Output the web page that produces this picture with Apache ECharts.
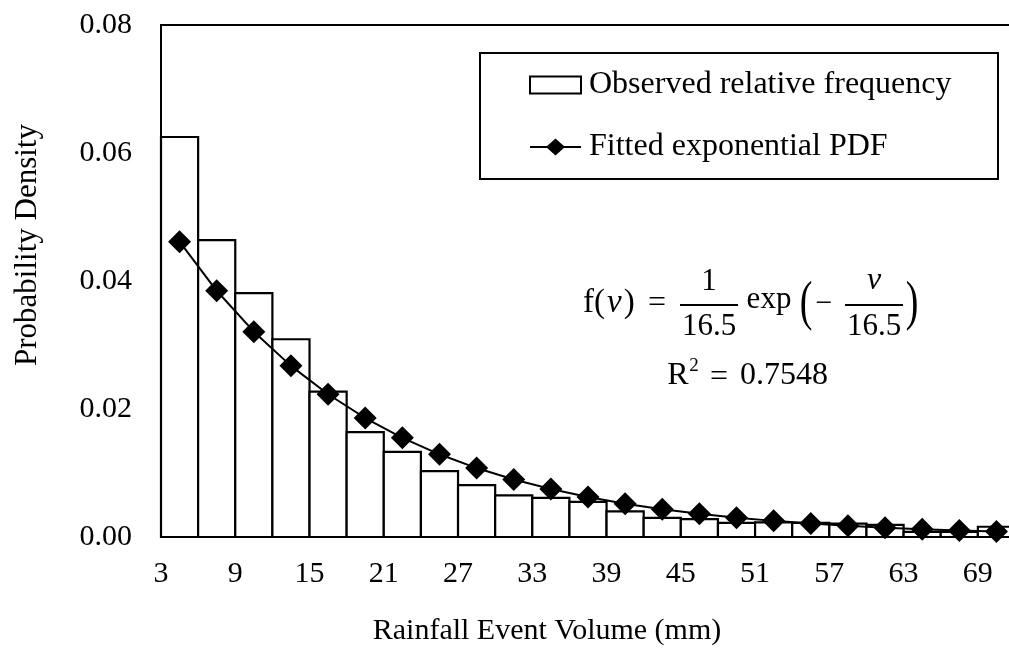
<!DOCTYPE html>
<html>
<head>
<meta charset="utf-8">
<script src="https://cdn.jsdelivr.net/npm/echarts@6/dist/echarts.min.js"></script>
<style>
  html, body { margin: 0; padding: 0; background: #fff; }
  #chart { width: 1009px; height: 651px; }
</style>
</head>
<body>
<div id="chart"></div>
<script>
// Histogram bins of rainfall event volume (mm)
const binLow  = [3, 6, 9, 12, 15, 18, 21, 24, 27, 30, 33, 36, 39, 42, 45, 48, 51, 54, 57, 60, 63, 66, 69];
const binHigh = [6, 9, 12, 15, 18, 21, 24, 27, 30, 33, 36, 39, 42, 45, 48, 51, 54, 57, 60, 63, 66, 69, 72];
// Observed relative frequency (probability density) per bin
const observedDensity = [0.0625, 0.0464, 0.0381, 0.0309, 0.0227, 0.0164, 0.0133, 0.0103, 0.0081, 0.0065,
                         0.0061, 0.0055, 0.0040, 0.0030, 0.0028, 0.0022, 0.0023, 0.0022, 0.0021, 0.0019,
                         0.0008, 0.0008, 0.0016];
// Bin midpoints and fitted exponential PDF values at those points
const binMid = [4.5, 7.5, 10.5, 13.5, 16.5, 19.5, 22.5, 25.5, 28.5, 31.5, 34.5, 37.5, 40.5, 43.5,
                46.5, 49.5, 52.5, 55.5, 58.5, 61.5, 64.5, 67.5, 70.5];
const fittedPdf = [0.04614, 0.03847, 0.03208, 0.02674, 0.02230, 0.01859, 0.01550, 0.01292, 0.01077,
                   0.00898, 0.00749, 0.00624, 0.00521, 0.00434, 0.00362, 0.00302, 0.00252, 0.00210,
                   0.00175, 0.00146, 0.00122, 0.00101, 0.00085];
// Tick labels
const xTickLabels = [3, 9, 15, 21, 27, 33, 39, 45, 51, 57, 63, 69];
const yTickLabels = ['0.00', '0.02', '0.04', '0.06', '0.08'];

const FONT = "'Liberation Serif', 'Times New Roman', serif";

const barData = binLow.map((lo, i) => [lo, binHigh[i], observedDensity[i]]);
const lineData = binMid.map((m, i) => [m, fittedPdf[i]]);

const chart = echarts.init(document.getElementById('chart'), null, { renderer: 'canvas' });

const txt = (text, x, y, size, extra, scaleY) => ({
  type: 'text', x: x, y: y, z: 100, scaleY: scaleY || 1,
  style: Object.assign({ text: text, font: size + 'px ' + FONT, fill: '#000',
    align: 'center', verticalAlign: 'middle' }, extra || {})
});

// legend glyph: line with a diamond marker
const lineDiamondIcon = 'path://M0,7.5 L51,7.5 L51,9.5 L0,9.5 Z M16,8.5 L25.5,0 L35,8.5 L25.5,17 Z';

chart.setOption({
  backgroundColor: '#fff',
  animation: false,
  grid: {
    left: 161, top: 25, right: -6, bottom: 114,
    outerBoundsMode: 'none', containLabel: false,
    show: true, borderColor: '#000', borderWidth: 2, backgroundColor: 'transparent'
  },
  xAxis: {
    type: 'value', min: 3, max: 72, interval: 6,
    axisLine: { show: true, lineStyle: { color: '#000', width: 2 } },
    axisTick: { show: false },
    splitLine: { show: false },
    axisLabel: {
      color: '#000', fontFamily: FONT, fontSize: 30, margin: 22,
      formatter: v => (xTickLabels.indexOf(v) >= 0 ? String(v) : '')
    }
  },
  yAxis: {
    type: 'value', min: 0, max: 0.08, interval: 0.02,
    axisLine: { show: true, lineStyle: { color: '#000', width: 2 } },
    axisTick: { show: true, inside: true, length: 9, lineStyle: { color: '#000', width: 2 } },
    splitLine: { show: false },
    axisLabel: {
      color: '#000', fontFamily: FONT, fontSize: 30, margin: 29,
      formatter: v => yTickLabels[Math.round(v / 0.02)]
    }
  },
  legend: {
    orient: 'vertical', left: 529, top: 69,
    itemWidth: 51, itemHeight: 17, itemGap: 30, padding: 0,
    textStyle: { color: '#000', fontFamily: FONT, fontSize: 32, padding: [0, 0, 0, 3] },
    data: [
      { name: 'Observed relative frequency', icon: 'rect',
        itemStyle: { color: '#fff', borderColor: '#000', borderWidth: 2 } },
      { name: 'Fitted exponential PDF', icon: lineDiamondIcon,
        itemStyle: { color: '#000', borderWidth: 0 } }
    ]
  },
  series: [
    {
      name: 'Observed relative frequency',
      type: 'custom',
      z: 2,
      itemStyle: { color: '#fff', borderColor: '#000', borderWidth: 2 },
      encode: { x: [0, 1], y: 2 },
      data: barData,
      renderItem: function (params, api) {
        const p0 = api.coord([api.value(0), api.value(2)]);
        const p1 = api.coord([api.value(1), 0]);
        return {
          type: 'rect',
          shape: { x: p0[0], y: p0[1], width: p1[0] - p0[0], height: p1[1] - p0[1] },
          style: { fill: '#fff', stroke: '#000', lineWidth: 2.2 }
        };
      }
    },
    {
      name: 'Fitted exponential PDF',
      type: 'line',
      z: 5,
      data: lineData,
      symbol: 'diamond',
      symbolSize: 23,
      itemStyle: { color: '#000' },
      lineStyle: { color: '#000', width: 2 }
    }
  ],
  graphic: [
    // legend frame
    { type: 'rect', z: 50, shape: { x: 480, y: 53, width: 518, height: 126 },
      style: { fill: 'transparent', stroke: '#000', lineWidth: 2 } },
    // axis titles
    txt('Rainfall Event Volume (mm)', 547, 631, 30),
    { type: 'text', x: 28, y: 245, rotation: Math.PI / 2, z: 100,
      style: { text: 'Probability Density', font: '31px ' + FONT, fill: '#000',
        align: 'center', verticalAlign: 'middle' } },
    // fitted equation
    { type: 'text', x: 583, y: 303, z: 100,
      style: { text: '{a|f(}{i|v}{a|)}', align: 'left', verticalAlign: 'middle',
        rich: { a: { font: '33px ' + FONT, fill: '#000' },
                i: { font: 'italic 33px ' + FONT, fill: '#000', padding: [0, 2, 0, 2] } } } },
    txt('=', 657, 304, 32),
    txt('1', 709, 282, 31),
    { type: 'line', z: 100, shape: { x1: 680, y1: 305, x2: 738, y2: 305 },
      style: { stroke: '#000', lineWidth: 2 } },
    txt('16.5', 709, 327, 31),
    txt('exp', 769, 300, 31),
    txt('(', 806, 305, 38, null, 1.45),
    txt('\u2212', 824, 304, 30),
    txt('v', 874, 281, 31, { font: 'italic 32px ' + FONT }),
    { type: 'line', z: 100, shape: { x1: 845, y1: 305, x2: 903, y2: 305 },
      style: { stroke: '#000', lineWidth: 2 } },
    txt('16.5', 874, 327, 31),
    txt(')', 912, 305, 38, null, 1.45),
    txt('R', 678, 376, 32),
    txt('2', 694, 366, 19),
    txt('=', 719, 378, 32),
    txt('0.7548', 740, 376, 32, { align: 'left' })
  ]
});
</script>
</body>
</html>
